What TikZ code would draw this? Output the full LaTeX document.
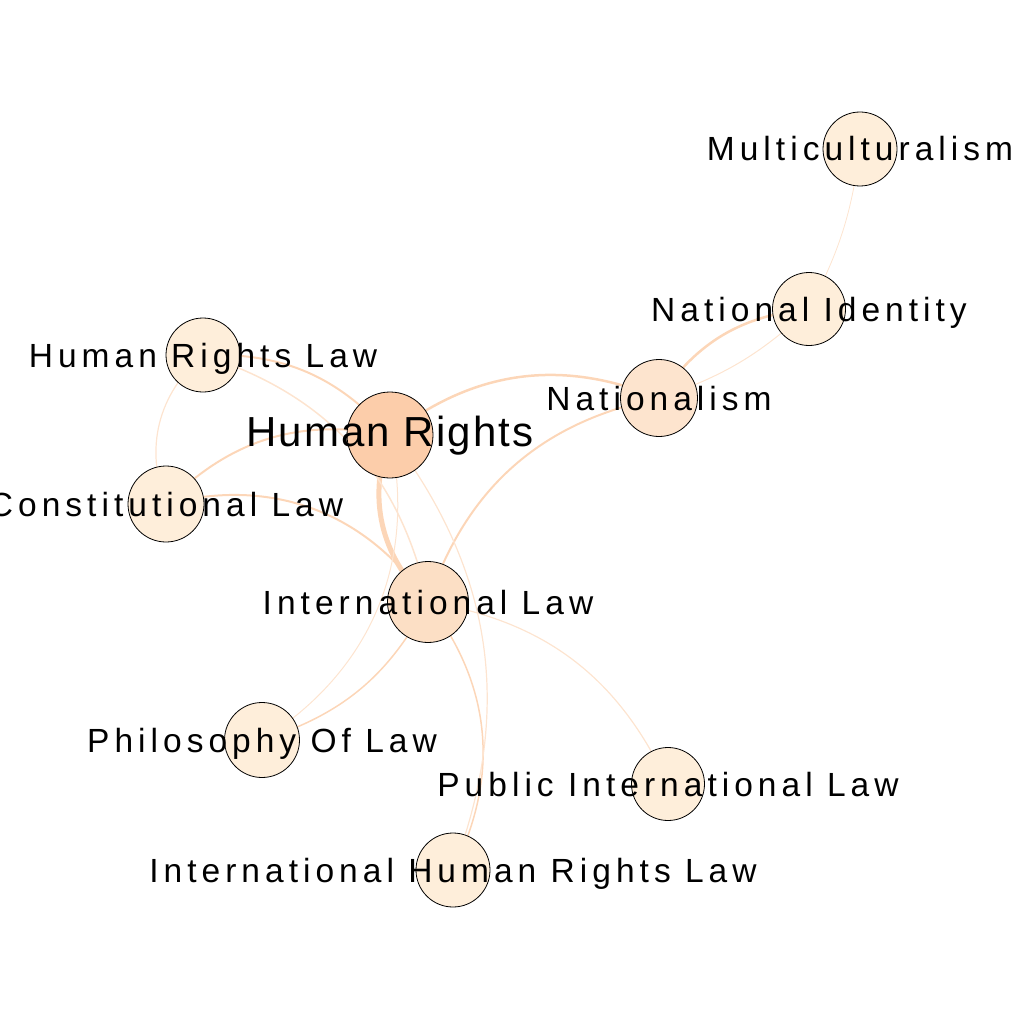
\documentclass[tikz,border=0pt]{standalone}
\usepackage{fontspec}
\usepackage{xcolor}
\usepackage{tikz}

\newfontfamily\lblfont[LetterSpace=15]{Liberation Sans}
\newfontfamily\biglblfont[LetterSpace=5]{Liberation Sans}

\definecolor{hrfill}{RGB}{252,205,170}
\definecolor{midfill}{RGB}{252,223,197}
\definecolor{lowfill}{RGB}{253,228,206}
\definecolor{leaffill}{RGB}{254,238,218}
\definecolor{linkdark}{RGB}{252,214,184}
\definecolor{linklight}{RGB}{253,228,208}

\begin{document}
\begin{tikzpicture}[x=1pt, y=-1pt,
    link/.style={draw=linkdark, line width=#1},
    faint/.style={draw=linklight, line width=#1},
    lbl/.style={anchor=base, yshift=-12pt, inner sep=0pt, font=\lblfont\fontsize{33.5}{40}\selectfont},
    biglbl/.style={anchor=base, yshift=-11pt, inner sep=0pt, font=\biglblfont\fontsize{42}{48}\selectfont}]
    \useasboundingbox (0,0) rectangle (1024,1024);
    \coordinate (MC) at (860, 149);
    \coordinate (NI) at (809, 309);
    \coordinate (NA) at (659, 398);
    \coordinate (HR) at (390, 435);
    \coordinate (HRL) at (203, 355);
    \coordinate (CL) at (166, 504);
    \coordinate (IL) at (428, 602);
    \coordinate (PL) at (262, 740);
    \coordinate (PIL) at (668, 784);
    \coordinate (IHRL) at (453, 870);
    % links first, circles cover their ends
    \draw[faint=0.8] (MC) to[bend left=10] (NI);
    \draw[link=2.5] (NA) to[bend left=25] (NI);
    \draw[faint=1] (NA) to[bend right=12] (NI);
    \draw[link=2.5] (HR) to[bend left=30] (NA);
    \draw[link=2] (IL) to[bend left=30] (NA);
    \draw[link=5] (HR) to[bend right=33] (IL);
    \draw[link=2] (HRL) to[bend left=25] (HR);
    \draw[faint=1.5] (HRL) to[bend left=30] (IL);
    \draw[faint=1.2] (HRL) to[bend right=35] (CL);
    \draw[link=2] (CL) to[bend left=28] (HR);
    \draw[link=2] (CL) to[bend left=35] (IL);
    \draw[faint=1] (HR) to[bend left=35] (PL);
    \draw[link=1.5] (IL) to[bend left=22] (PL);
    \draw[faint=1.2] (IL) to[bend left=28] (PIL);
    \draw[link=1.5] (IL) to[bend left=32] (IHRL);
    \draw[faint=1.2] (HR) to[bend left=29] (IHRL);
    % circles
    \filldraw[fill=leaffill, line width=0.8pt] (MC) circle (37pt);
    \filldraw[fill=leaffill, line width=0.8pt] (NI) circle (36.5pt);
    \filldraw[fill=lowfill, line width=0.8pt] (NA) circle (38.5pt);
    \filldraw[fill=hrfill, line width=0.8pt] (HR) circle (43pt);
    \filldraw[fill=leaffill, line width=0.8pt] (HRL) circle (37pt);
    \filldraw[fill=leaffill, line width=0.8pt] (CL) circle (38pt);
    \filldraw[fill=midfill, line width=0.8pt] (IL) circle (40.5pt);
    \filldraw[fill=leaffill, line width=0.8pt] (PL) circle (37.5pt);
    \filldraw[fill=leaffill, line width=0.8pt] (PIL) circle (36.5pt);
    \filldraw[fill=leaffill, line width=0.8pt] (IHRL) circle (37pt);
    % labels on top
    \node[lbl] (MClbl) at (MC) {Multiculturalism};
    \node[lbl] (NIlbl) at (NI) {National Identity};
    \node[lbl] (NAlbl) at (NA) {Nationalism};
    \node[biglbl] (HRlbl) at (HR) {Human Rights};
    \node[lbl] (HRLlbl) at (HRL) {Human Rights Law};
    \node[lbl] (CLlbl) at (CL) {Constitutional Law};
    \node[lbl] (ILlbl) at (IL) {International Law};
    \node[lbl] (PLlbl) at (PL) {Philosophy Of Law};
    \node[lbl] (PILlbl) at (PIL) {Public International Law};
    \node[lbl] (IHRLlbl) at (IHRL) {International Human Rights Law};
\end{tikzpicture}
\end{document}
